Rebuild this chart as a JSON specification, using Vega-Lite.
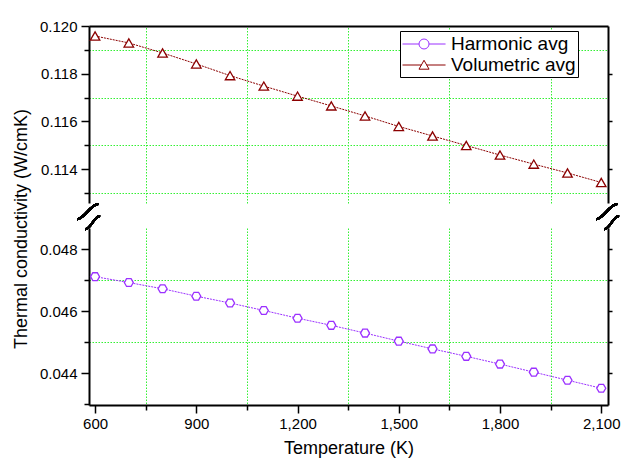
{
  "$schema": "https://vega.github.io/schema/vega-lite/v6.json",
  "background": "white",
  "padding": {"left": 12, "top": 19, "right": 5, "bottom": 3},
  "bounds": "flush",
  "spacing": 25,
  "config": {
    "font": "Liberation Sans",
    "view": {"stroke": null},
    "axis": {
      "labelFont": "Liberation Sans", "titleFont": "Liberation Sans",
      "labelColor": "black", "titleColor": "black", "domainColor": "black", "tickColor": "black",
      "titleFontWeight": "normal", "labelFontSize": 15, "titleFontSize": 18,
      "domainWidth": 2, "tickWidth": 1.5, "labelOverlap": false, "labelFlush": false,
      "gridColor": "#33f033", "gridDash": [1.5, 1.5], "gridWidth": 1
    }
  },
  "datasets": {
    "d": [
      {"T": 600, "k": 0.11958, "series": "Volumetric avg"},
      {"T": 700, "k": 0.11929, "series": "Volumetric avg"},
      {"T": 800, "k": 0.11887, "series": "Volumetric avg"},
      {"T": 900, "k": 0.11841, "series": "Volumetric avg"},
      {"T": 1000, "k": 0.11792, "series": "Volumetric avg"},
      {"T": 1100, "k": 0.11748, "series": "Volumetric avg"},
      {"T": 1200, "k": 0.11706, "series": "Volumetric avg"},
      {"T": 1300, "k": 0.11665, "series": "Volumetric avg"},
      {"T": 1400, "k": 0.11623, "series": "Volumetric avg"},
      {"T": 1500, "k": 0.11579, "series": "Volumetric avg"},
      {"T": 1600, "k": 0.11539, "series": "Volumetric avg"},
      {"T": 1700, "k": 0.11499, "series": "Volumetric avg"},
      {"T": 1800, "k": 0.11459, "series": "Volumetric avg"},
      {"T": 1900, "k": 0.11421, "series": "Volumetric avg"},
      {"T": 2000, "k": 0.11384, "series": "Volumetric avg"},
      {"T": 2100, "k": 0.11344, "series": "Volumetric avg"},
      {"T": 600, "k": 0.04712, "series": "Harmonic avg"},
      {"T": 700, "k": 0.04693, "series": "Harmonic avg"},
      {"T": 800, "k": 0.04673, "series": "Harmonic avg"},
      {"T": 900, "k": 0.04649, "series": "Harmonic avg"},
      {"T": 1000, "k": 0.04627, "series": "Harmonic avg"},
      {"T": 1100, "k": 0.04603, "series": "Harmonic avg"},
      {"T": 1200, "k": 0.04578, "series": "Harmonic avg"},
      {"T": 1300, "k": 0.04555, "series": "Harmonic avg"},
      {"T": 1400, "k": 0.04530, "series": "Harmonic avg"},
      {"T": 1500, "k": 0.04504, "series": "Harmonic avg"},
      {"T": 1600, "k": 0.04479, "series": "Harmonic avg"},
      {"T": 1700, "k": 0.04455, "series": "Harmonic avg"},
      {"T": 1800, "k": 0.04430, "series": "Harmonic avg"},
      {"T": 1900, "k": 0.04404, "series": "Harmonic avg"},
      {"T": 2000, "k": 0.04378, "series": "Harmonic avg"},
      {"T": 2100, "k": 0.04352, "series": "Harmonic avg"}
    ]
  },
  "vconcat": [
    {
      "width": 519,
      "height": 177,
      "data": {"name": "d"},
      "layer": [
        {
          "transform": [{"filter": "datum.series == 'Volumetric avg'"}],
          "mark": {"type": "line", "color": "#8b0000", "strokeWidth": 1, "strokeDash": [2, 1]},
          "encoding": {
            "x": {
              "field": "T", "type": "quantitative",
              "scale": {"domain": [582, 2120], "nice": false, "zero": false},
              "axis": {
                "orient": "top", "title": null, "labels": false, "ticks": false,
                "values": [600, 750, 900, 1050, 1200, 1350, 1500, 1650, 1800, 1950, 2100],
                "grid": true,
                "gridOpacity": {"condition": {"test": "datum.value % 300 == 0", "value": 0}, "value": 1}
              }
            },
            "y": {
              "field": "k", "type": "quantitative",
              "scale": {"domain": [0.11258, 0.12], "nice": false, "zero": false},
              "axis": {
                "orient": "left", "title": null, "format": ".3f", "labelPadding": 4,
                "values": [0.113, 0.114, 0.115, 0.116, 0.117, 0.118, 0.119, 0.12],
                "tickSize": {"condition": {"test": "round(datum.value*1000) % 2 == 1", "value": 5}, "value": 8},
                "labelOpacity": {"condition": {"test": "round(datum.value*1000) % 2 == 1", "value": 0}, "value": 1},
                "grid": true,
                "gridOpacity": {"condition": {"test": "round(datum.value*1000) % 2 == 1", "value": 1}, "value": 0}
              }
            }
          }
        },
        {
          "transform": [{"filter": "datum.series == 'Volumetric avg'"}],
          "mark": {"type": "point", "shape": "triangle-up", "size": 90, "fill": "white", "stroke": "#8b0000", "strokeWidth": 1.3, "opacity": 1, "filled": false},
          "encoding": {
            "x": {"field": "T", "type": "quantitative", "axis": null},
            "y": {
              "field": "k", "type": "quantitative",
              "axis": {
                "orient": "right", "title": null, "labels": false, "grid": false, "tickSize": 4,
                "values": [0.114, 0.116, 0.118]
              }
            }
          }
        },
        {
          "mark": {"type": "point", "shape": "M-1,0.22C-0.4,0.22 0.15,-1.04 0.78,-1.04M-0.33,1.06C0.2,1.06 0.4,-0.04 0.92,-0.04", "size": 576, "filled": false, "stroke": "black", "strokeWidth": 2, "opacity": 1},
          "encoding": {
            "x": {"datum": 582, "type": "quantitative", "axis": null},
            "y": {"datum": 0.112014, "type": "quantitative", "axis": null}
          }
        },
        {
          "mark": {"type": "point", "shape": "M-1,0.22C-0.4,0.22 0.15,-1.04 0.78,-1.04M-0.33,1.06C0.2,1.06 0.4,-0.04 0.92,-0.04", "size": 576, "filled": false, "stroke": "black", "strokeWidth": 2, "opacity": 1},
          "encoding": {
            "x": {"datum": 2120, "type": "quantitative", "axis": null},
            "y": {"datum": 0.112014, "type": "quantitative", "axis": null}
          }
        },
        {
          "mark": {"type": "point", "opacity": 0, "filled": false, "size": 441},
          "encoding": {
            "x": {"field": "T", "type": "quantitative", "axis": null},
            "y": {"field": "k", "type": "quantitative", "axis": null},
            "shape": {
              "field": "series", "type": "nominal",
              "scale": {
                "domain": ["Harmonic avg", "Volumetric avg"],
                "range": [
                  "M-1,0H0.574M1.526,0H3.1M1.526,0A0.476,0.476,0,1,1,0.574,0A0.476,0.476,0,1,1,1.526,0Z",
                  "M-1,0H0.796M1.304,0H3.1M1.05,-0.45L1.53,0.4L0.57,0.4Z"
                ]
              },
              "legend": {
                "orient": "none", "legendX": 311, "legendY": 5, "title": null,
                "strokeColor": "black", "fillColor": "white", "padding": 2,
                "labelFont": "Liberation Sans", "labelFontSize": 19, "labelColor": "black",
                "labelOffset": 27, "symbolSize": 441, "symbolStrokeWidth": 1, "symbolOpacity": 1, "rowPadding": 0
              }
            },
            "color": {
              "field": "series", "type": "nominal",
              "scale": {"domain": ["Harmonic avg", "Volumetric avg"], "range": ["#9b30ff", "#8b0000"]},
              "legend": {
                "orient": "none", "legendX": 311, "legendY": 5, "title": null,
                "strokeColor": "black", "fillColor": "white", "padding": 2,
                "labelFont": "Liberation Sans", "labelFontSize": 19, "labelColor": "black",
                "labelOffset": 27, "symbolSize": 441, "symbolStrokeWidth": 1, "symbolOpacity": 1, "rowPadding": 0
              }
            }
          }
        }
      ],
      "resolve": {"axis": {"x": "independent", "y": "independent"}}
    },
    {
      "width": 519,
      "height": 177,
      "data": {"name": "d"},
      "transform": [{"filter": "datum.series == 'Harmonic avg'"}],
      "layer": [
        {
          "mark": {"type": "line", "color": "#9b30ff", "strokeWidth": 1, "strokeDash": [2, 1]},
          "encoding": {
            "x": {
              "field": "T", "type": "quantitative",
              "scale": {"domain": [582, 2120], "nice": false, "zero": false},
              "axis": {
                "orient": "bottom", "title": "Temperature (K)", "titlePadding": 8, "format": ",.0f",
                "labelPadding": 3,
                "values": [600, 750, 900, 1050, 1200, 1350, 1500, 1650, 1800, 1950, 2100],
                "tickSize": {"condition": {"test": "datum.value % 300 == 0", "value": 8}, "value": 5},
                "labelOpacity": {"condition": {"test": "datum.value % 300 == 0", "value": 1}, "value": 0},
                "grid": true,
                "gridOpacity": {"condition": {"test": "datum.value % 300 == 0", "value": 0}, "value": 1}
              }
            },
            "y": {
              "field": "k", "type": "quantitative",
              "scale": {"domain": [0.04298, 0.04869], "nice": false, "zero": false},
              "axis": {
                "orient": "left", "title": "Thermal conductivity (W/cmK)", "titleY": 0.5, "titlePadding": 9,
                "format": ".3f", "labelPadding": 4,
                "values": [0.043, 0.044, 0.045, 0.046, 0.047, 0.048],
                "tickSize": {"condition": {"test": "round(datum.value*1000) % 2 == 1", "value": 5}, "value": 8},
                "labelOpacity": {"condition": {"test": "round(datum.value*1000) % 2 == 1", "value": 0}, "value": 1},
                "grid": true,
                "gridOpacity": {"condition": {"test": "round(datum.value*1000) % 2 == 1 && datum.value > 0.0435", "value": 1}, "value": 0}
              }
            }
          }
        },
        {
          "mark": {"type": "point", "shape": "M-1,0L-0.5,-0.866L0.5,-0.866L1,0L0.5,0.866L-0.5,0.866Z", "size": 81, "fill": "white", "stroke": "#9b30ff", "strokeWidth": 1.3, "opacity": 1, "filled": false},
          "encoding": {
            "x": {"field": "T", "type": "quantitative", "axis": null},
            "y": {
              "field": "k", "type": "quantitative",
              "axis": {
                "orient": "right", "title": null, "labels": false, "grid": false, "tickSize": 4,
                "values": [0.044, 0.045, 0.046, 0.047, 0.048]
              }
            }
          }
        }
      ],
      "resolve": {"axis": {"x": "independent", "y": "independent"}}
    }
  ]
}
